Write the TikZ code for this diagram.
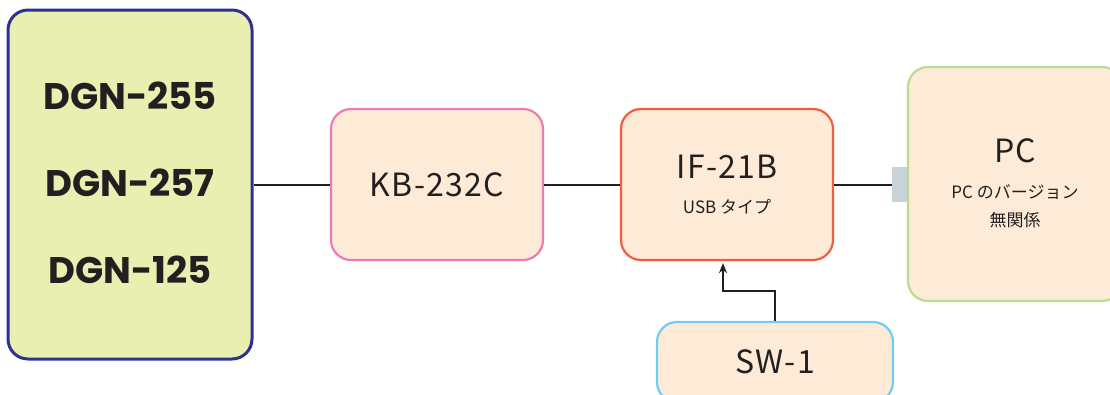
\documentclass[tikz,border=0pt]{standalone}
\usepackage{fontspec}
\newfontfamily\jpfont{Noto Sans CJK JP}
\newfontfamily\namefont{Noto Sans CJK JP}[LetterSpace=4]
\newfontfamily\heavyfont{Poppins}
\usetikzlibrary{arrows.meta,positioning}
\definecolor{ink}{HTML}{231F20}
\definecolor{peach}{HTML}{FDEBD8}
\definecolor{lime}{HTML}{E8EFB0}
\definecolor{navy}{HTML}{2E3192}
\definecolor{rose}{HTML}{EE7AB3}
\definecolor{coral}{HTML}{EF5F3F}
\definecolor{leaf}{HTML}{B9DC8E}
\definecolor{sky}{HTML}{6DCFF2}
\definecolor{plugc}{HTML}{C8D3D8}
\newcommand{\UnitW}{212pt}
\newcommand{\UnitH}{151pt}

\begin{document}
\begin{tikzpicture}[x=1pt, y=-1pt, ink,
    unit/.style={line width=2.2pt, fill=peach, rounded corners=20pt, minimum width=\UnitW, minimum height=\UnitH, inner sep=0pt, align=center},
    model/.style={font=\namefont\fontsize{32}{36}\selectfont, text=ink},
    note/.style={font=\jpfont\fontsize{17}{20}\selectfont, text=ink},
    dgnname/.style={font=\heavyfont\bfseries\fontsize{37}{40}\selectfont, text=ink},
    wire/.style={draw=ink, line width=2pt},
    feed/.style={wire, -{Stealth[length=10pt,width=8pt]}, shorten >=2pt},
  ]
\useasboundingbox (0,0) rectangle (1110,394);

% --- Devices --------------------------------------------------------------------
\node[draw=navy, fill=lime, line width=3pt, rounded corners=20pt, minimum width=244pt, minimum height=349pt] (dgn) at (130,184.5) {};
\foreach \y/\n in {96/DGN-255,183/DGN-257,270/DGN-125}
  \node[dgnname] at (130,\y) {\n};

% --- Interfaces -----------------------------------------------------------------
\node[unit, draw=rose, model] (kb) at (437,184.5) {KB-232C};
\node[unit, draw=coral] (ifb) at (727,184.5) {};
\node[model] (ifname) at ([yshift=18pt]ifb.center) {IF-21B};
\node[note] (iftype) at ([yshift=-22pt]ifb.center) {USB タイプ};

% --- PC -------------------------------------------------------------------------
\node[unit, draw=leaf, minimum width=214pt, minimum height=234pt] (pc) at (1015,184) {};
\node[model] (pcname) at ([yshift=33pt]pc.center) {PC};
\node[note] (pcver) at ([yshift=-8pt]pc.center) {PC のバージョン};
\node[note] (pcany) at ([yshift=-36pt]pc.center) {無関係};
\node[fill=plugc, minimum width=15pt, minimum height=35pt, inner sep=0pt, left=0pt of pc] (plug) {};

% --- Switch ---------------------------------------------------------------------
\node[unit, draw=sky, model, minimum width=236pt, minimum height=80pt] (sw) at (775,362) {SW-1};

% --- Wiring ---------------------------------------------------------------------
\draw[wire] (dgn.east) -- (kb.west);
\draw[wire] (kb.east) -- (ifb.west);
\draw[wire] (ifb.east) -- (ifb.east -| plug.west);
\coordinate (bend) at (723,291);
\draw[feed] (sw.north) |- (bend) -- (bend |- ifb.south);
\end{tikzpicture}
\end{document}
